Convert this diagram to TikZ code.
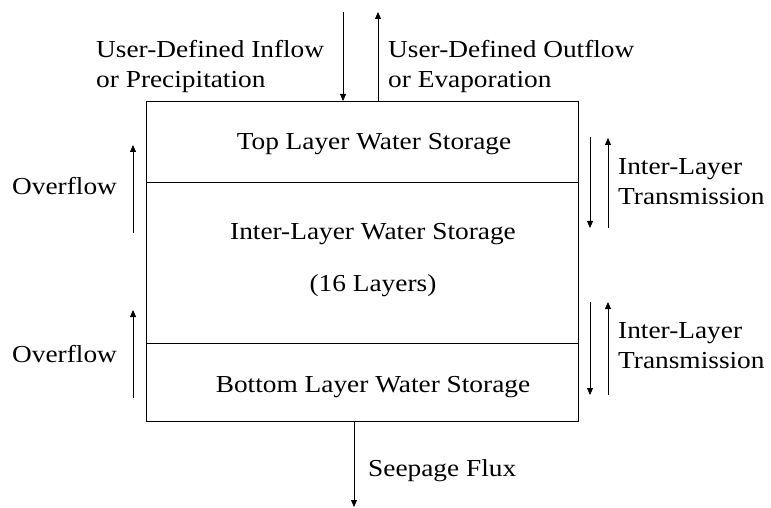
\documentclass[tikz,border=0pt]{standalone}
\usepackage{fontspec}
\setmainfont[FakeStretch=1.12]{Liberation Serif}
\usetikzlibrary{arrows.meta}
\begin{document}
\begin{tikzpicture}[x=1bp,y=-1bp,
  lbl/.style={font=\fontsize{24.5}{30}\selectfont, inner sep=0pt, anchor=base},
  lbll/.style={lbl, anchor=base west},
  flow/.style={-{Triangle[length=7bp,width=6bp]}, line width=0.8bp},
  layer/.style={draw, line width=0.9bp, minimum width=432bp, inner sep=0pt, anchor=north west}]
\useasboundingbox (0,0) rectangle (771,508);
% layers
\node[layer, minimum height=81bp] (top) at (146,101) {};
\node[layer, minimum height=161bp] (mid) at (146,182) {};
\node[layer, minimum height=78bp] (bot) at (146,343) {};
\node[lbl] (toptxt) at (374,150) {Top Layer Water Storage};
\node[lbl] (midtxt) at (373,240) {Inter-Layer Water Storage};
\node[lbl] (midnum) at (373,292) {(16 Layers)};
\node[lbl] (bottxt) at (373,392) {Bottom Layer Water Storage};
% labels
\node[lbll] (inlbla) at (96,58) {User-Defined Inflow};
\node[lbll] (inlblb) at (96,88) {or Precipitation};
\node[lbll] (outlbla) at (388,58) {User-Defined Outflow};
\node[lbll] (outlblb) at (388,88) {or Evaporation};
\node[lbll] (ov1) at (12,195) {Overflow};
\node[lbll] (ov2) at (12,362) {Overflow};
\node[lbll] (tr1a) at (618,175) {Inter-Layer};
\node[lbll] (tr1b) at (618,205) {Transmission};
\node[lbll] (tr2a) at (618,338) {Inter-Layer};
\node[lbll] (tr2b) at (618,368) {Transmission};
\node[lbll] (seep) at (368,476) {Seepage Flux};
% coordinates
\coordinate (inS) at (343,12);
\coordinate (outE) at (378,12);
\coordinate (o1s) at (133,233); \coordinate (o1e) at (133,145);
\coordinate (o2s) at (133,398); \coordinate (o2e) at (133,310);
\coordinate (t1ds) at (590,137); \coordinate (t1de) at (590,228);
\coordinate (t1us) at (608,228); \coordinate (t1ue) at (608,138);
\coordinate (t2ds) at (590,302); \coordinate (t2de) at (590,395);
\coordinate (t2us) at (608,395); \coordinate (t2ue) at (608,302);
\coordinate (seepE) at (354,507);
% arrows
\draw[flow] (inS) -- (inS |- top.north);
\draw[flow] (outE |- top.north) -- (outE);
\draw[flow] (o1s) -- (o1e);
\draw[flow] (o2s) -- (o2e);
\draw[flow] (t1ds) -- (t1de);
\draw[flow] (t1us) -- (t1ue);
\draw[flow] (t2ds) -- (t2de);
\draw[flow] (t2us) -- (t2ue);
\draw[flow] (seepE |- bot.south) -- (seepE);
\end{tikzpicture}
\end{document}
